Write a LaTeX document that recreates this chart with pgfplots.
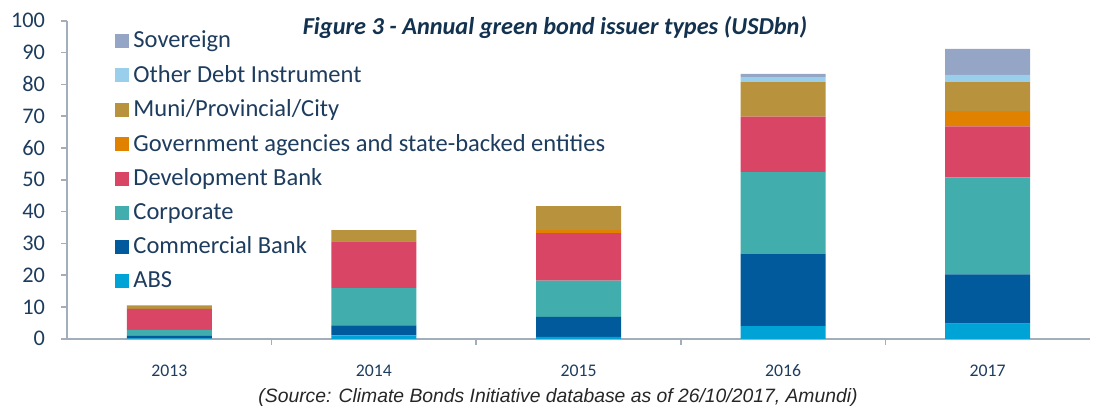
\documentclass[border=0pt]{standalone}
\usepackage{pgfplots}
\pgfplotsset{compat=1.18}
\usepackage{pgfplotstable}
\usepackage{fontspec}
\setmainfont{Carlito}
\newfontfamily\srcfont{Liberation Sans}

\definecolor{txt}{HTML}{1D3C5E}
\definecolor{titlecol}{HTML}{13324F}
\definecolor{axisgray}{HTML}{A3AEBB}
\definecolor{cABS}{HTML}{00A3D6}
\definecolor{cComm}{HTML}{005A9C}
\definecolor{cCorp}{HTML}{41ADAD}
\definecolor{cDev}{HTML}{D94564}
\definecolor{cGov}{HTML}{E08100}
\definecolor{cMuni}{HTML}{B8923C}
\definecolor{cOther}{HTML}{9ACFEC}
\definecolor{cSov}{HTML}{95A5C6}

% annual issuance by issuer type, USD bn
\pgfplotstableread{
idx abs  comm corp dev  gov muni other sov
0   0.1  0.8  1.9  6.6  0.0 1.1  0.0   0.0
1   1.1  3.1  11.7 14.7 0.0 3.6  0.0   0.0
2   0.6  6.3  11.4 14.9 1.0 7.5  0.0   0.0
3   4.0  22.8 25.6 17.5 0.0 10.8 1.6   1.0
4   4.8  15.5 30.5 16.0 4.8 9.1  2.3   8.2
}\issuers

\begin{document}
\begin{tikzpicture}
\begin{axis}[
  scale only axis,
  width=511.5bp, height=159bp,
  ybar stacked, bar width=42.5bp,
  xmin=-0.5, xmax=4.5, ymin=0, ymax=100,
  ytick={0,10,...,100},
  xtick={0,...,4},
  xticklabels={2013,2014,2015,2016,2017},
  extra x ticks={0.5,1.5,2.5,3.5},
  extra x tick labels={},
  major x tick style={draw=none},
  extra x tick style={major x tick style={draw=axisgray, line width=0.75bp}},
  axis x line*=bottom, axis y line*=left,
  axis line style={draw=axisgray, line width=0.75bp},
  tick style={draw=axisgray, line width=0.75bp},
  tick align=outside, major tick length=3bp,
  /pgf/number format/assume math mode=true,
  yticklabel style={font=\fontsize{11.2}{13}\selectfont, text=txt, xshift=-4.5bp},
  xticklabel style={font=\fontsize{8.9}{10}\selectfont, text=txt, yshift=-6.5bp},
  clip=false,
  reverse legend,
  legend cell align=left,
  legend style={at={(0.047,0.983)}, anchor=north west, draw=none, fill=none,
    font=\fontsize{12.3}{14}\selectfont, text=txt, row sep=3.3bp,
    inner sep=0pt},
  legend image code/.code={\fill[#1] (0bp,-3.5bp) rectangle (7bp,3.5bp);},
]
\addplot[fill=cABS, draw=none] table[x=idx, y=abs] {\issuers};
\addlegendentry{ABS}
\addplot[fill=cComm, draw=none] table[x=idx, y=comm] {\issuers};
\addlegendentry{Commercial Bank}
\addplot[fill=cCorp, draw=none] table[x=idx, y=corp] {\issuers};
\addlegendentry{Corporate}
\addplot[fill=cDev, draw=none] table[x=idx, y=dev] {\issuers};
\addlegendentry{Development Bank}
\addplot[fill=cGov, draw=none] table[x=idx, y=gov] {\issuers};
\addlegendentry{Government agencies and state-backed entities}
\addplot[fill=cMuni, draw=none] table[x=idx, y=muni] {\issuers};
\addlegendentry{Muni/Provincial/City}
\addplot[fill=cOther, draw=none] table[x=idx, y=other] {\issuers};
\addlegendentry{Other Debt Instrument}
\addplot[fill=cSov, draw=none] table[x=idx, y=sov] {\issuers};
\addlegendentry{Sovereign}

\node[font=\fontsize{12.2}{14}\selectfont\bfseries\itshape, text=titlecol]
  at (rel axis cs:0.477,0.98) {Figure 3 - Annual green bond issuer types (USDbn)};
\node[font=\srcfont\fontsize{9.7}{11}\selectfont\itshape, text=black!85, yshift=-29.5bp]
  at (rel axis cs:0.48,0) {(Source: Climate Bonds Initiative database as of 26/10/2017, Amundi)};
\end{axis}
\pgfresetboundingbox
\path[use as bounding box] ([xshift=-33.5bp,yshift=-34.5bp]current axis.south west)
  rectangle ([xshift=6bp,yshift=10.4bp]current axis.north east);
\end{tikzpicture}
\end{document}
